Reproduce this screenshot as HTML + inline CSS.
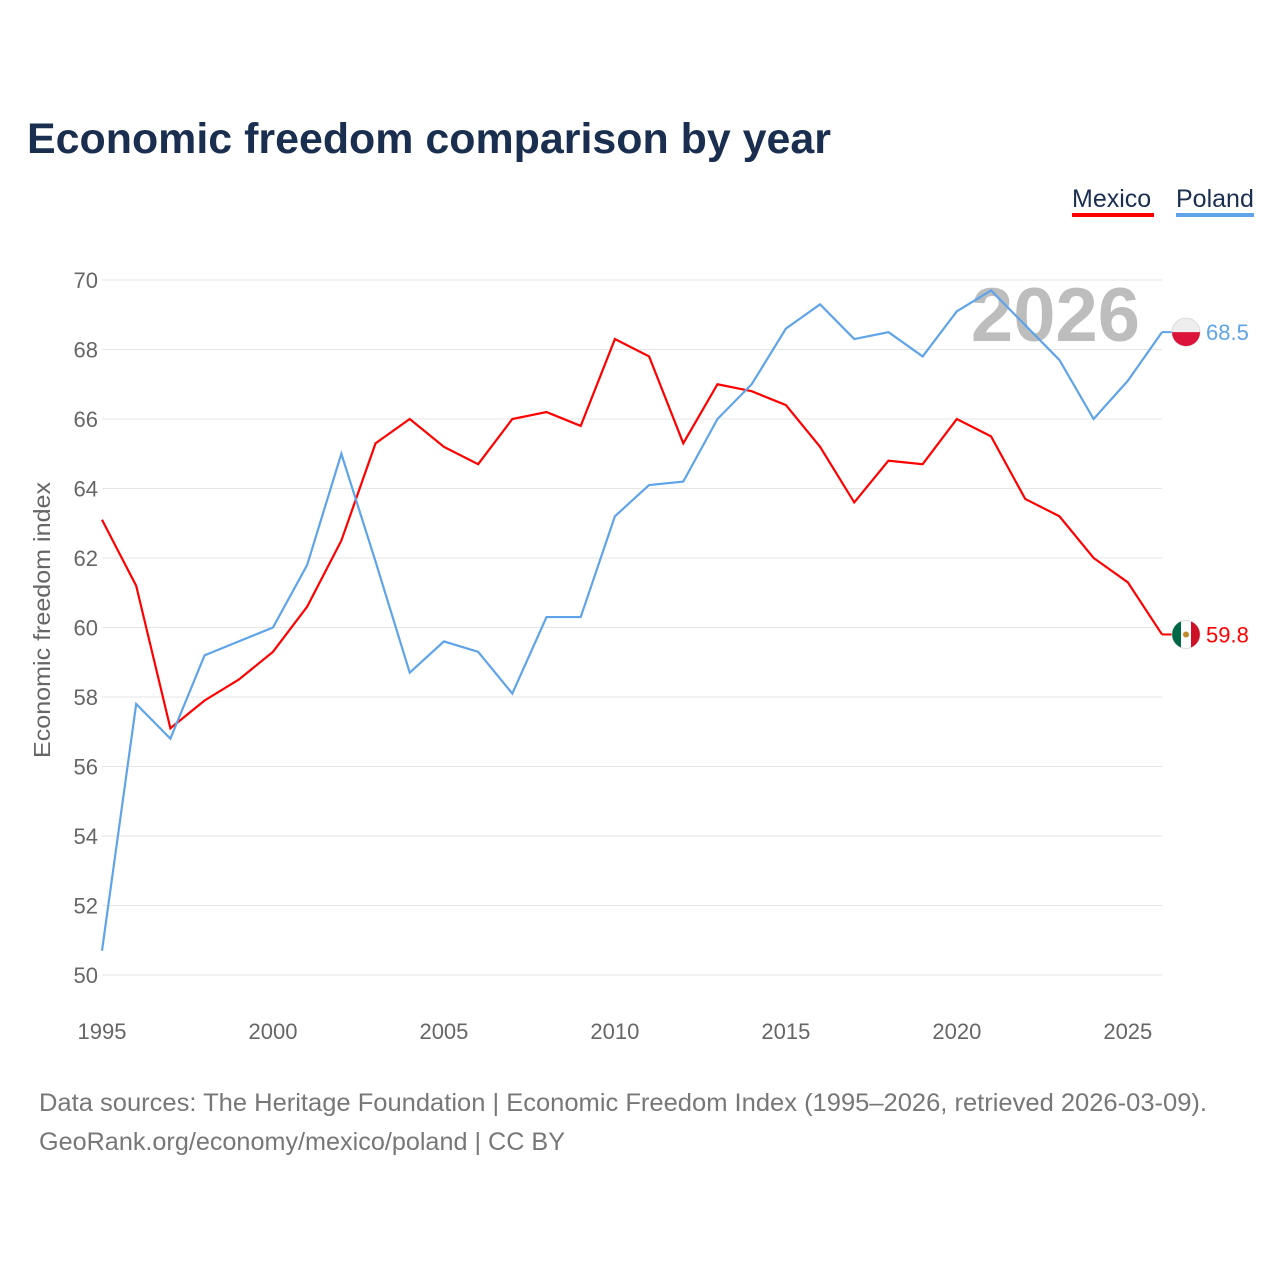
<!DOCTYPE html>
<html><head><meta charset="utf-8"><style>
body{margin:0;background:#fff;width:1280px;height:1280px;overflow:hidden;font-family:"Liberation Sans",sans-serif}
</style></head><body>
<svg id="chart" width="1280" height="1280" xmlns="http://www.w3.org/2000/svg">
<text x="27" y="153" font-size="43" font-weight="bold" fill="#1a2e4f" textLength="804" lengthAdjust="spacingAndGlyphs">Economic freedom comparison by year</text>
<g><text x="1072" y="207" font-size="25" fill="#1a2e4f">Mexico</text><rect x="1072" y="213" width="82" height="4" fill="#ff0000"/></g>
<g><text x="1176" y="207" font-size="25" fill="#1a2e4f">Poland</text><rect x="1176" y="213" width="78" height="4" fill="#5fa4e8"/></g>
<text x="1140" y="341" text-anchor="end" font-size="76" font-weight="bold" fill="#bdbdbd">2026</text>
<g id="grid"></g><g id="lines"></g>
<text transform="translate(50,620) rotate(-90)" text-anchor="middle" font-size="23" fill="#666" textLength="276" lengthAdjust="spacingAndGlyphs">Economic freedom index</text>
<text x="39" y="1111" font-size="25" fill="#777" textLength="1168" lengthAdjust="spacingAndGlyphs">Data sources: The Heritage Foundation | Economic Freedom Index (1995–2026, retrieved 2026-03-09).</text>
<text x="39" y="1150" font-size="25" fill="#777" textLength="526" lengthAdjust="spacingAndGlyphs">GeoRank.org/economy/mexico/poland | CC BY</text>
</svg>
<script>
const years=[];for(let y=1995;y<=2026;y++)years.push(y);
const mexico=[63.1,61.2,57.1,57.9,58.5,59.3,60.6,62.5,65.3,66.0,65.2,64.7,66.0,66.2,65.8,68.3,67.8,65.3,67.0,66.8,66.4,65.2,63.6,64.8,64.7,66.0,65.5,63.7,63.2,62.0,61.3,59.8];
const poland=[50.7,57.8,56.8,59.2,59.6,60.0,61.8,65.0,61.9,58.7,59.6,59.3,58.1,60.3,60.3,63.2,64.1,64.2,66.0,67.0,68.6,69.3,68.3,68.5,67.8,69.1,69.7,68.7,67.7,66.0,67.1,68.5];
const yTicks=[50,52,54,56,58,60,62,64,66,68,70];
const xTicks=[1995,2000,2005,2010,2015,2020,2025];
const NS="http://www.w3.org/2000/svg";
const X=y=>102+(y-1995)*(1162-102)/31;
const Y=v=>975-(v-50)*34.75;
function mk(t,a,p){const e=document.createElementNS(NS,t);for(const k in a)e.setAttribute(k,a[k]);p.appendChild(e);return e;}
const g=document.getElementById('grid');
yTicks.forEach(t=>{
 const l=mk('line',{x1:102,x2:1162,y1:Y(t),y2:Y(t),stroke:'#e6e6e6','stroke-width':1},g);
 
 
 const tx=mk('text',{x:98,y:Y(t)+8,'text-anchor':'end','font-size':22,fill:'#666'},g);tx.textContent=t;
 
 
});
xTicks.forEach(t=>{
 const tx=mk('text',{x:X(t),y:1039,'text-anchor':'middle','font-size':22,fill:'#666'},g);tx.textContent=t;
 
 
});
const L=document.getElementById('lines');
function series(vals,color,name){
 const p=mk('path',{d:vals.map((v,i)=>(i?'L':'M')+X(years[i])+','+Y(v)).join(''),fill:'none',stroke:color,'stroke-width':2.2},L);
 
 
 const last=vals[vals.length-1],ly=Y(last);
 mk('line',{x1:1162,x2:1172,y1:ly,y2:ly,stroke:color,'stroke-width':2},L);
 const c=mk('circle',{cx:1186,cy:ly,r:14,fill:name==='poland'?'#eee':'#fff',stroke:'#ddd'},L);
 
 
 if(name==='poland')mk('path',{d:`M1172,${ly} A14,14 0 0,0 1200,${ly} Z`,fill:'#dc143c'},L);
 else{mk('path',{d:`M1181,${ly-13} A14,14 0 0,0 1181,${ly+13} Z`,fill:'#006847'},L);mk('path',{d:`M1191,${ly-13} A14,14 0 0,1 1191,${ly+13} Z`,fill:'#ce1126'},L);mk('circle',{cx:1186,cy:ly,r:3,fill:'#c08a2e'},L);}
 const t=mk('text',{x:1206,y:ly+8,'font-size':22,fill:color},L);t.textContent=last.toFixed(1);
 
 
}
series(mexico,'#ff0000','mexico');
series(poland,'#5fa4e8','poland');
</script>
</body></html>
